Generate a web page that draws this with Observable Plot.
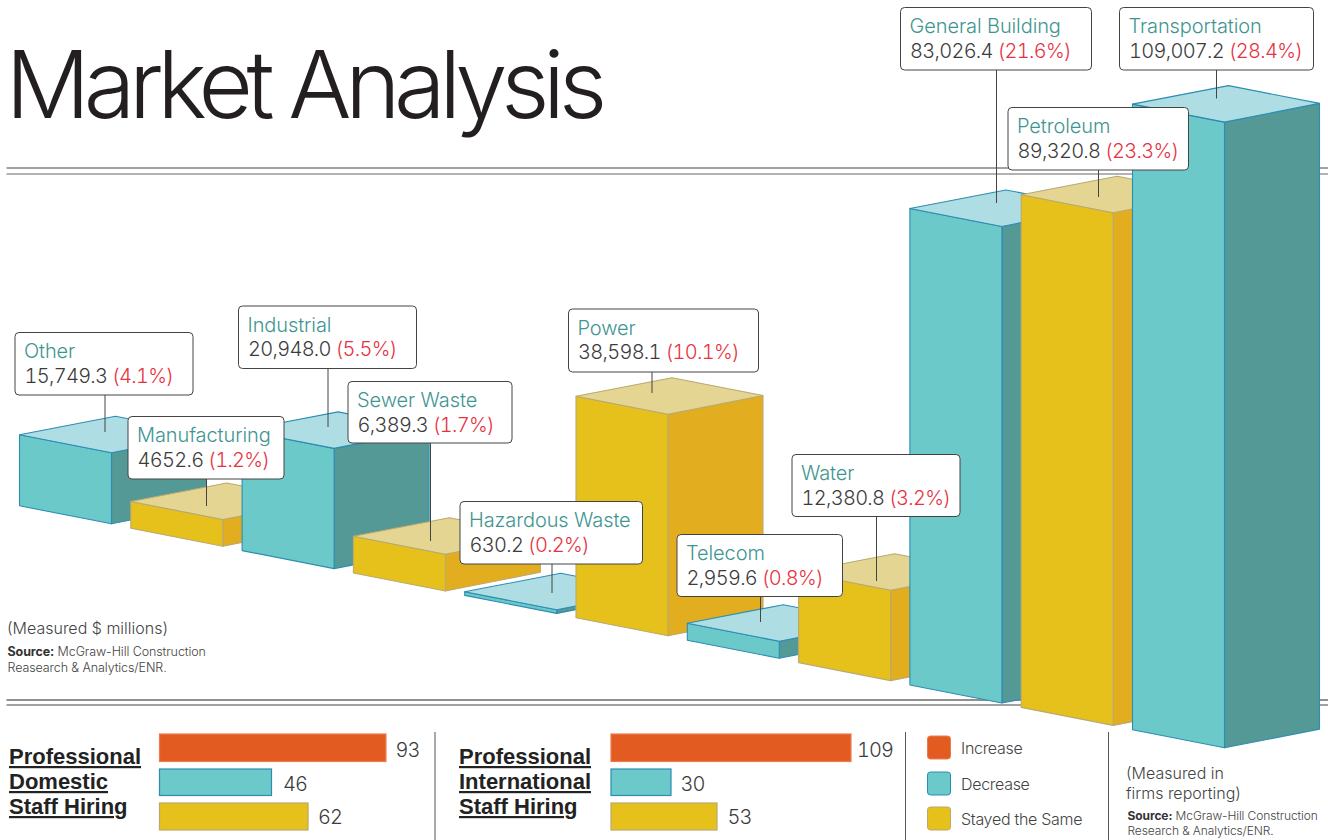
<!DOCTYPE html>
<html>
<head>
<meta charset="utf-8">
<title>Market Analysis</title>
<script src="https://cdn.jsdelivr.net/npm/d3@7"></script>
<script src="https://cdn.jsdelivr.net/npm/@observablehq/plot@0.6"></script>
<style>
  html, body { margin: 0; padding: 0; background: #fff; }
  svg { display: block; }
</style>
</head>
<body>
<script>
// ---- Data ----
const categories = ["Other", "Manufacturing", "Industrial", "Sewer Waste", "Hazardous Waste", "Power", "Telecom", "Water", "General Building", "Petroleum", "Transportation"];
const valueLabels = ["15,749.3", "4652.6", "20,948.0", "6,389.3", "630.2", "38,598.1", "2,959.6", "12,380.8", "83,026.4", "89,320.8", "109,007.2"];
const shareLabels = ["(4.1%)", "(1.2%)", "(5.5%)", "(1.7%)", "(0.2%)", "(10.1%)", "(0.8%)", "(3.2%)", "(21.6%)", "(23.3%)", "(28.4%)"];
const trends = ["Decrease", "Stayed the Same", "Decrease", "Stayed the Same", "Decrease", "Stayed the Same", "Decrease", "Stayed the Same", "Decrease", "Stayed the Same", "Decrease"];
// Heights as drawn in the original: proportional to the values, except that its
// Other and Water columns have each other's height.
const drawnValues = [12380.8, 4652.6, 20948.0, 6389.3, 630.2, 38598.1, 2959.6, 15749.3, 83026.4, 89320.8, 109007.2];

const hiringTrends = ["Increase", "Decrease", "Stayed the Same"];
const domesticHiring = [93, 46, 62];
const domesticDrawn = [93, 46, 61]; // bar lengths as drawn in the original
const internationalHiring = [109, 30, 53];
const internationalDrawn = [120, 30, 53]; // bar lengths as drawn in the original

const legendLabels = ["Increase", "Decrease", "Stayed the Same"];

// ---- Layout and style ----
const W = 1328, H = 840;
const FONT = "Inter, 'Liberation Sans', sans-serif";
const INK = "#3c3c3c", TEALTEXT = "#3f9591", RED = "#e8323f";
const palette = {
  "Increase": {front: "#e25c22", stroke: "#ee7a50"},
  "Decrease": {front: "#6cc9c9", side: "#559996", top: "#aedde3", stroke: "#2c8db3"},
  "Stayed the Same": {front: "#e6c11c", side: "#e2ae1f", top: "#e4d692", stroke: "#b9a970"}
};

// oblique projection of the columns onto the page
const PX_PER_MILLION = 0.00574;
const frontX = i => 111 + 111.3 * i;
const frontY = i => 523.3 + 22.4 * i;
const LEFT = [-92, -18], RIGHT = [95, -18.7], BACK = [4, -36.5];

function polygon(points, style) {
  const closed = [...points, points[0]].map(([x, y]) => ({x, y}));
  return Plot.line(closed, {x: "x", y: "y", curve: "linear", strokeWidth: 1.1, strokeLinejoin: "round", ...style});
}
function columnMarks(i) {
  const c = palette[trends[i]];
  const fx = frontX(i), by = frontY(i), ty = by - drawnValues[i] * PX_PER_MILLION;
  return [
    polygon([[fx, ty], [fx + RIGHT[0], ty + RIGHT[1]], [fx + RIGHT[0], by + RIGHT[1]], [fx, by]], {fill: c.side, stroke: c.stroke}),
    polygon([[fx + LEFT[0], ty + LEFT[1]], [fx, ty], [fx, by], [fx + LEFT[0], by + LEFT[1]]], {fill: c.front, stroke: c.stroke}),
    polygon([[fx + LEFT[0], ty + LEFT[1]], [fx + BACK[0], ty + BACK[1]], [fx + RIGHT[0], ty + RIGHT[1]], [fx, ty]], {fill: c.top, stroke: c.stroke})
  ];
}

// callout boxes [x1, y1, x2, y2] and leader [x, yEnd] per category
const calloutBoxes = [
  [15, 332.5, 193, 395], [128, 416.5, 284, 479], [238.5, 306, 416.5, 368.5], [348, 381.5, 512, 443],
  [460, 501.5, 642.5, 564], [568.5, 309, 758.5, 372], [677, 534.5, 842.5, 596.5], [792, 454.5, 960, 516.5],
  [900.5, 7.5, 1091.5, 70], [1008, 107.5, 1188.5, 170], [1119.5, 7.5, 1313.5, 70]
];
const leaders = [[104.5, 432], [206, 506], [327.5, 427], [430, 541], [551.5, 593], [651.5, 393], [760, 622], [876, 581], [996, 203], [1098, 197], [1216, 98.5]];

const FS = 20;
const baselineText = (data, o) => Plot.text(data, {
  textAnchor: "start", lineAnchor: "middle", dy: -0.32 * (o.fontSize || FS), fontSize: FS, fill: INK, ...o
});
// appends a differently styled run after each text element of a mark
const withRun = (runText, attrs, css = {}) => (index, scales, values, dims, ctx, next) => {
  const g = next(index, scales, values, dims, ctx);
  d3.select(g).selectAll("text").each(function (_, k) {
    for (const [a, v] of Object.entries(css)) d3.select(this).style(a, v);
    const run = d3.select(this).append("tspan").text(runText(index[k]));
    for (const [a, v] of Object.entries(attrs)) run.attr(a, v);
  });
  return g;
};
const styled = (css) => (index, scales, values, dims, ctx, next) => {
  const g = next(index, scales, values, dims, ctx);
  const t = d3.select(g).selectAll("text");
  for (const [a, v] of Object.entries(css)) t.style(a, v);
  return g;
};

const rows = categories.map((name, i) => ({
  i, name, value: valueLabels[i], share: shareLabels[i],
  x1: calloutBoxes[i][0], y1: calloutBoxes[i][1], x2: calloutBoxes[i][2], y2: calloutBoxes[i][3],
  lx: leaders[i][0], ly: leaders[i][1]
}));

const TNUM = {"font-variant-numeric": "tabular-nums", "letter-spacing": "-0.7px"};

const hiringBars = (values, drawn, x0, k, title, titleX, labelGaps) => {
  const tops = [734, 769, 803], bottoms = [761.5, 795.5, 830], bases = [756, 790, 823];
  const d = values.map((v, i) => ({
    v, trend: hiringTrends[i], x2: x0 + drawn[i] * k, y1: tops[i], y2: bottoms[i], b: bases[i], gap: labelGaps[i]
  }));
  return [
    Plot.rect(d, {x1: () => x0, x2: "x2", y1: "y1", y2: "y2",
      fill: r => palette[r.trend].front, stroke: r => palette[r.trend].stroke, strokeWidth: 1.2}),
    baselineText(d, {x: r => r.x2 + r.gap, y: "b", text: r => String(r.v), fontSize: 20, fontWeight: 300,
      render: styled({"font-variant-numeric": "tabular-nums", "letter-spacing": "-1px"})}),
    ...title.map((t, i) => baselineText([t], {x: () => titleX, y: () => 763.5 + 25 * i, text: r => r,
      fontSize: 22, fontWeight: 700, fill: "#222", fontFamily: "'Liberation Sans', sans-serif",
      render: styled({"text-decoration": "underline"})}))
  ];
};

const rule = (y, stroke) => Plot.ruleY([y], {x1: 6.5, x2: W, y: d => d, stroke, strokeWidth: 1});
const vline = x => Plot.ruleX([x], {x: d => d, y1: 732, y2: H, stroke: "#555", strokeWidth: 1});

const note = (txt, x, y, fs, ls = "0px") => baselineText([txt], {x: () => x, y: () => y, text: d => d, fontSize: fs, fontWeight: 300, fill: "#444",
  render: styled({"letter-spacing": ls})});
const sourceLine = (x, y, fs) => baselineText(["Source:"], {
  x: () => x, y: () => y, text: d => d, fontSize: fs, fontWeight: 700, fill: "#333",
  render: withRun(() => " McGraw-Hill Construction", {"font-weight": 300, fill: "#444"}, {"letter-spacing": "-0.1px"})
});

const chart = Plot.plot({
  width: W, height: H,
  marginTop: 0, marginRight: 0, marginBottom: 0, marginLeft: 0,
  x: {domain: [0, W], range: [0, W], axis: null},
  y: {domain: [0, H], range: [0, H], axis: null},
  style: {fontFamily: FONT, background: "#fff", overflow: "visible"},
  marks: [
    // title and rules sit behind the columns
    baselineText(["Market Analysis"], {x: () => 5, y: () => 117, text: d => d, fontSize: 94, fontWeight: 300, fill: "#231f20",
      render: styled({"letter-spacing": "-6.4px"})}),
    rule(167.5, "#444"), rule(173.5, "#666"),
    rule(699.5, "#222"), rule(704.5, "#444"),

    // columns, painted left to right
    ...categories.flatMap((_, i) => columnMarks(i)),

    // notes
    note("(Measured $ millions)", 6.5, 633.5, 16),
    sourceLine(7, 655.5, 12.5),
    note("Reasearch & Analytics/ENR.", 7, 671.5, 12.5, "-0.1px"),
    note("(Measured in", 1125.5, 778.5, 16),
    note("firms reporting)", 1125.5, 798.5, 16),
    sourceLine(1127, 819, 12),
    note("Research & Analytics/ENR.", 1127, 834.5, 12, "-0.1px"),

    // callouts
    Plot.ruleX(rows, {x: "lx", y1: "y2", y2: "ly", stroke: "#444", strokeWidth: 1}),
    Plot.rect(rows, {x1: "x1", x2: "x2", y1: "y1", y2: "y2", rx: 4, ry: 4, fill: "#fff", stroke: "#444", strokeWidth: 1}),
    baselineText(rows, {x: d => d.x1 + 8.5, y: d => d.y1 + 25, text: "name", fill: TEALTEXT, fontWeight: 300,
      render: styled({"letter-spacing": "-0.1px"})}),
    baselineText(rows, {x: d => d.x1 + 9, y: d => d.y1 + 49.5, text: "value", fontWeight: 300,
      render: withRun(i => " " + rows[i].share, {fill: RED}, TNUM)}),

    // hiring panels
    ...hiringBars(domesticHiring, domesticDrawn, 159.5, 2.435, ["Professional", "Domestic", "Staff Hiring"], 8.5, [9, 11, 9.5]),
    ...hiringBars(internationalHiring, internationalDrawn, 611, 2, ["Professional", "International", "Staff Hiring"], 458.5, [5.5, 9, 10]),
    vline(434.5), vline(905), vline(1108),

    // legend
    Plot.rect(legendLabels, {
      x1: () => 927.5, x2: () => 950.5,
      y1: (_, i) => [736, 772, 807][i], y2: (_, i) => [759, 795, 830][i],
      rx: 3, ry: 3, fill: d => palette[d].front, stroke: d => palette[d].stroke, strokeWidth: 1
    }),
    baselineText(legendLabels, {x: () => 960.5, y: (_, i) => [753.5, 789.5, 824.5][i], text: d => d, fontSize: 16, fontWeight: 300, fill: "#444",
      render: styled({"letter-spacing": "-0.3px"})})
  ]
});
document.body.appendChild(chart);
</script>
</body>
</html>
